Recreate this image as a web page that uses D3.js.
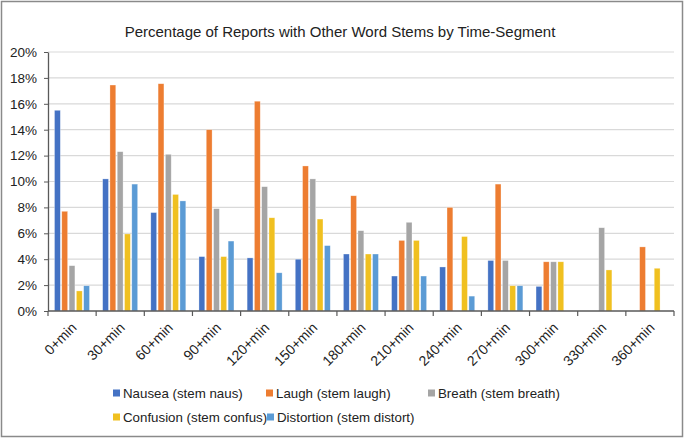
<!DOCTYPE html>
<html><head><meta charset="utf-8">
<script src="https://cdn.jsdelivr.net/npm/d3@7"></script>
<style>
body{margin:0;background:#fff;}
text{font-family:"Liberation Sans",Arial,sans-serif;}
</style></head>
<body>
<svg id="chart" width="685" height="440"></svg>
<script>
const categories = ["0+min","30+min","60+min","90+min","120+min","150+min","180+min","210+min","240+min","270+min","300+min","330+min","360+min"];
const seriesNames = ["Nausea (stem naus)","Laugh (stem laugh)","Breath (stem breath)","Confusion (stem confus)","Distortion (stem distort)"];
const nausea     = [15.5,10.2, 7.6, 4.2, 4.1, 4.0, 4.4, 2.7, 3.4, 3.9, 1.9, 0, 0];
const laugh      = [ 7.7,17.45,17.55,14.0,16.2,11.2, 8.9, 5.45, 8.0, 9.8, 3.8, 0, 4.95];
const breath     = [ 3.5,12.3,12.1, 7.9, 9.6,10.2, 6.2, 6.85, 0, 3.9, 3.8, 6.43, 0];
const confusion  = [ 1.55, 5.95, 9.0, 4.2, 7.2, 7.1, 4.4, 5.45, 5.75, 1.95, 3.8, 3.17, 3.3];
const distortion = [ 1.95, 9.8, 8.5, 5.4, 2.95, 5.05, 4.4, 2.7, 1.15, 1.95, 0, 0, 0];
const seriesValues = [nausea, laugh, breath, confusion, distortion];
const colors = ["#4472C4","#ED7D31","#A5A5A5","#F0C020","#5B9BD5"];
const yTicks = [0,2,4,6,8,10,12,14,16,18,20];
const title = "Percentage of Reports with Other Word Stems by Time-Segment";

const svg = d3.select("#chart");
const mLeft = 48, mRight = 674, mTop = 52, mBottom = 311;

svg.append("rect").attr("x",1.5).attr("y",1.5).attr("width",681).attr("height",435)
  .attr("fill","#fff").attr("stroke","#8a8a8a").attr("stroke-width",1.5);

svg.append("text").attr("x",340).attr("y",32).attr("dy","0.35em")
  .attr("text-anchor","middle").attr("font-size",15).attr("fill","#222").text(title);

const x0 = d3.scaleBand().domain(categories).range([mLeft,mRight]).padding(0);
const x1 = d3.scaleBand().domain(seriesNames).range([6.5,41.5]).paddingInner(0.2).paddingOuter(0);
const y = d3.scaleLinear().domain([0,20]).range([mBottom,mTop]);

// gridlines
svg.append("g").selectAll("line").data(yTicks.filter(d=>d>0)).join("line")
  .attr("x1",mLeft).attr("x2",mRight).attr("y1",d=>y(d)).attr("y2",d=>y(d))
  .attr("stroke","#d9d9d9").attr("stroke-width",1.2);

// bars
const groups = svg.append("g").selectAll("g").data(categories).join("g")
  .attr("transform",d=>`translate(${x0(d)},0)`);
groups.selectAll("rect").data((c,i)=>seriesNames.map((s,j)=>({s,j,v:seriesValues[j][i]})).filter(d=>d.v>0))
  .join("rect")
  .attr("x",d=>x1(d.s)).attr("width",x1.bandwidth())
  .attr("y",d=>y(d.v)).attr("height",d=>y(0)-y(d.v))
  .attr("fill",d=>colors[d.j]).attr("stroke","#ffffff").attr("stroke-opacity",0.5).attr("stroke-width",0.6);

// y axis
const yAxis = d3.axisLeft(y).tickValues(yTicks).tickFormat(d=>d+"%").tickSize(4).tickSizeOuter(0);
const gy = svg.append("g").attr("transform",`translate(${mLeft},0)`).call(yAxis);
gy.select(".domain").attr("stroke","#595959").attr("stroke-width",1.3);
gy.selectAll(".tick line").attr("stroke","#595959");
gy.selectAll(".tick text").attr("font-size",13.5).attr("fill","#222").attr("x",-11)
  .attr("font-family","'Liberation Sans',Arial,sans-serif");

// x axis
const gx = svg.append("g").attr("transform",`translate(0,${mBottom})`);
gx.append("line").attr("x1",mLeft).attr("x2",mRight).attr("stroke","#595959").attr("stroke-width",1.3);
const boundaries = categories.map(c=>x0(c)).concat([mRight]);
gx.selectAll("line.tk").data(boundaries).join("line").attr("class","tk")
  .attr("x1",d=>d).attr("x2",d=>d).attr("y1",0).attr("y2",5).attr("stroke","#595959").attr("stroke-width",1.2);
gx.selectAll("text").data(categories).join("text")
  .attr("transform",d=>`translate(${x0(d)+x0.bandwidth()/2+2},${14}) rotate(-45)`)
  .attr("text-anchor","end").attr("dy","0.35em").attr("font-size",14).attr("fill","#222").text(d=>d);

// legend
const legendPos = [[113,393],[266,393],[428,393],[113,417],[267,417]];
const lg = svg.append("g").selectAll("g").data(seriesNames).join("g")
  .attr("transform",(d,i)=>`translate(${legendPos[i][0]},${legendPos[i][1]})`);
lg.append("rect").attr("x",0).attr("y",-3.5).attr("width",7).attr("height",7).attr("fill",(d,i)=>colors[i]);
lg.append("text").attr("x",10).attr("dy","0.35em").attr("font-size",13.3).attr("fill","#222").text(d=>d);
</script>
</body></html>
